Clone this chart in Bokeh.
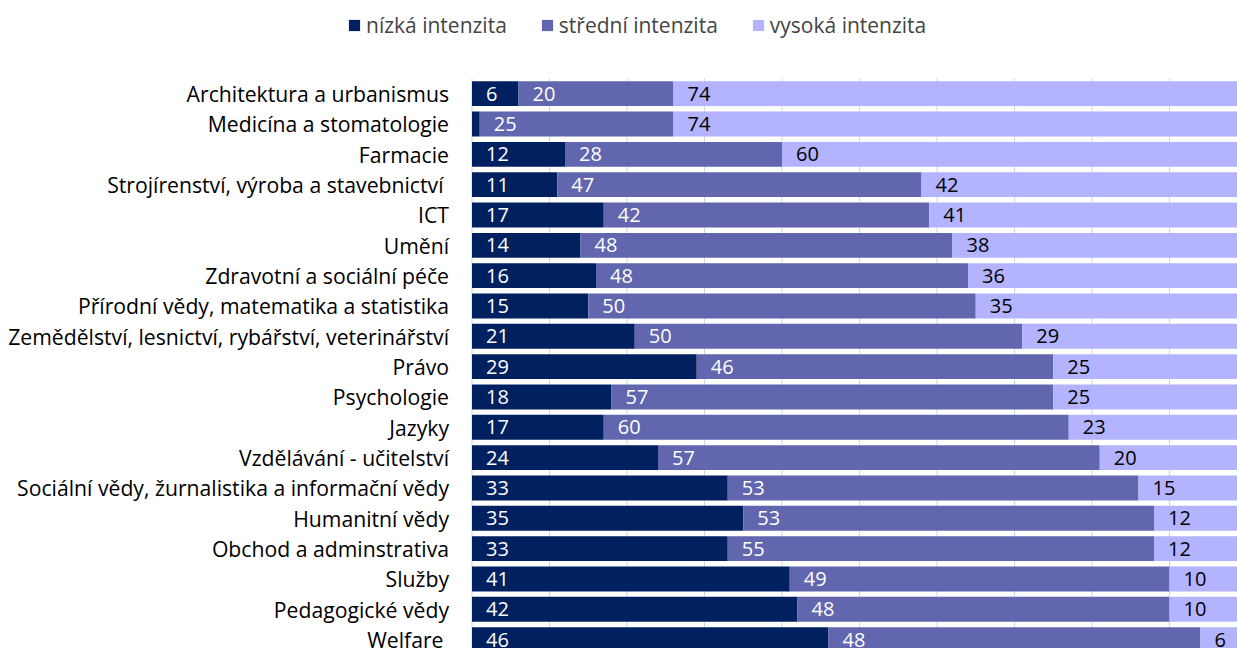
from bokeh.plotting import figure
from bokeh.models import Range1d, ColumnDataSource, Legend, LegendItem
from bokeh.core.properties import value
from bokeh.embed import file_html
from bokeh.resources import INLINE

categories = [
    "Architektura a urbanismus",
    "Medicína a stomatologie",
    "Farmacie",
    "Strojírenství, výroba a stavebnictví ",
    "ICT",
    "Umění",
    "Zdravotní a sociální péče",
    "Přírodní vědy, matematika a statistika",
    "Zemědělství, lesnictví, rybářství, veterinářství",
    "Právo",
    "Psychologie",
    "Jazyky",
    "Vzdělávání - učitelství",
    "Sociální vědy, žurnalistika a informační vědy",
    "Humanitní vědy",
    "Obchod a adminstrativa",
    "Služby",
    "Pedagogické vědy",
    "Welfare ",
]
nizka = [6, 1, 12, 11, 17, 14, 16, 15, 21, 29, 18, 17, 24, 33, 35, 33, 41, 42, 46]
stredni = [20, 25, 28, 47, 42, 48, 48, 50, 50, 46, 57, 60, 57, 53, 53, 55, 49, 48, 48]
vysoka = [74, 74, 60, 42, 41, 38, 36, 35, 29, 25, 25, 23, 20, 15, 12, 12, 10, 10, 6]
series_names = ["nízká intenzita", "střední intenzita", "vysoká intenzita"]
grid_ticks = list(range(0, 101, 10))
colors = ["#002060", "#6166AE", "#B3B3FF"]
label_colors = ["white", "white", "black"]

FONT = "Open Sans"
n = len(categories)
rows = list(range(n))

W, H = 1237, 648
ZERO_X = 471.5        # pixel where 0 % sits
TOP_Y = 78            # pixel where the category band starts
px_per_pct = 7.75
px_per_row = 30.33

y_top = -0.5 - TOP_Y / px_per_row
y_bottom = -0.5 + (H - TOP_Y) / px_per_row

p = figure(width=W, height=H, output_backend="svg", toolbar_location=None,
           x_range=Range1d(-ZERO_X / px_per_pct, (W - ZERO_X) / px_per_pct),
           y_range=Range1d(y_bottom, y_top),
           min_border_left=0, min_border_top=0, min_border_right=0, min_border_bottom=0)
p.outline_line_color = None
p.axis.visible = False
p.grid.visible = False

# vertical gridlines (and the category axis line at 0) inside the plot band
p.segment(x0=grid_ticks, x1=grid_ticks, y0=[-0.5] * len(grid_ticks), y1=[y_bottom] * len(grid_ticks),
          line_color="#C5D9F1", line_width=1)

# category labels
p.text(x=[0] * n, y=rows, text=categories, x_offset=-23,
       text_align="right", text_baseline="middle", text_color="black",
       text_font=value(FONT), text_font_size="21.2px")

series = [nizka, stredni, vysoka]
left = [0] * n
renderers = []
for vals, col, lc in zip(series, colors, label_colors):
    right = [l + v for l, v in zip(left, vals)]
    src = ColumnDataSource(dict(y=rows, left=left, right=right,
                                lab=[str(v) if v >= 5 else "" for v in vals]))
    r = p.hbar(y="y", left="left", right="right", height=0.82, source=src,
               fill_color=col, line_color=None)
    renderers.append(r)
    p.text(x="left", y="y", text="lab", source=src, x_offset=14,
           text_align="left", text_baseline="middle", text_color=lc,
           text_font=value(FONT), text_font_size="20px")
    left = right

legend = Legend(items=[LegendItem(label=nm, renderers=[r]) for nm, r in zip(series_names, renderers)],
                orientation="horizontal", location=(347, H - 39),
                padding=0, margin=0, spacing=33, label_standoff=5,
                glyph_width=14, glyph_height=14,
                border_line_color=None, background_fill_alpha=0,
                label_text_font=FONT, label_text_font_size="21px")
p.add_layout(legend, "center")

open("out.html", "w").write(file_html(p, INLINE))
